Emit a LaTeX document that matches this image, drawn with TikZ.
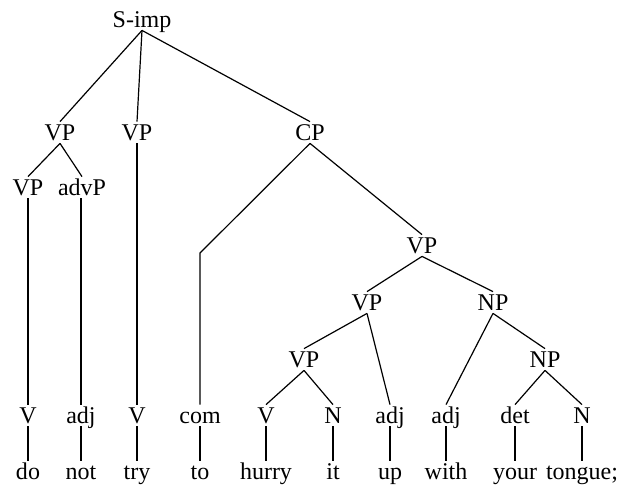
\documentclass[tikz,border=0pt]{standalone}
\usepackage{fontspec}
\setmainfont{Liberation Serif}
\begin{document}
\begin{tikzpicture}[x=0.5pt,y=-0.5pt,
  lbl/.style={anchor=base,inner xsep=1pt,inner ysep=1.5pt,text height=0.75em,text depth=0pt,font=\fontsize{12}{14}\selectfont},
  edge/.style={draw=black,line width=0.6pt}]
\useasboundingbox (0,0) rectangle (619,489);
% root and phrase nodes
\node[lbl] (simp) at (142,27) {S-imp};
\node[lbl] (vp1) at (60,140) {VP};
\node[lbl] (vp2) at (137,140) {VP};
\node[lbl] (cp) at (310,140) {CP};
\node[lbl] (vp3) at (28,195) {VP};
\node[lbl] (advp) at (82,195) {advP};
\node[lbl] (vp4) at (422,253) {VP};
\node[lbl] (vp5) at (367,310) {VP};
\node[lbl] (np1) at (493,310) {NP};
\node[lbl] (vp6) at (304,367) {VP};
\node[lbl] (np2) at (545,367) {NP};
\coordinate (combend) at (200,253);
% preterminals
\node[lbl] (p1) at (28,423) {V};
\node[lbl] (p2) at (81,423) {adj};
\node[lbl] (p3) at (137,423) {V};
\node[lbl] (p4) at (200,423) {com};
\node[lbl] (p5) at (266,423) {V};
\node[lbl] (p6) at (333,423) {N};
\node[lbl] (p7) at (390,423) {adj};
\node[lbl] (p8) at (446,423) {adj};
\node[lbl] (p9) at (515,423) {det};
\node[lbl] (p10) at (582,423) {N};
% words
\node[lbl] (w1) at (28,479) {do};
\node[lbl] (w2) at (81,479) {not};
\node[lbl] (w3) at (137,479) {try};
\node[lbl] (w4) at (200,479) {to};
\node[lbl] (w5) at (266,479) {hurry};
\node[lbl] (w6) at (333,479) {it};
\node[lbl] (w7) at (390,479) {up};
\node[lbl] (w8) at (446,479) {with};
\node[lbl] (w9) at (515,479) {your};
\node[lbl] (w10) at (582,479) {tongue;};
% edges
\draw[edge] (simp.south) -- (vp1.north);
\draw[edge] (simp.south) -- (vp2.north);
\draw[edge] (simp.south) -- (cp.north);
\draw[edge] (vp1.south) -- (vp3.north);
\draw[edge] (vp1.south) -- (advp.north);
\draw[edge] (vp3.south) -- (p1.north);
\draw[edge] (advp.south -| p2.north) -- (p2.north);
\draw[edge] (vp2.south) -- (p3.north);
\draw[edge] (cp.south) -- (combend) -- (p4.north);
\draw[edge] (cp.south) -- (vp4.north);
\draw[edge] (vp4.south) -- (vp5.north);
\draw[edge] (vp4.south) -- (np1.north);
\draw[edge] (vp5.south) -- (vp6.north);
\draw[edge] (vp5.south) -- (p7.north);
\draw[edge] (vp6.south) -- (p5.north);
\draw[edge] (vp6.south) -- (p6.north);
\draw[edge] (np1.south) -- (p8.north);
\draw[edge] (np1.south) -- (np2.north);
\draw[edge] (np2.south) -- (p9.north);
\draw[edge] (np2.south) -- (p10.north);
\foreach \i in {1,...,10} \draw[edge] (p\i.south) -- (w\i.north);
\end{tikzpicture}
\end{document}
